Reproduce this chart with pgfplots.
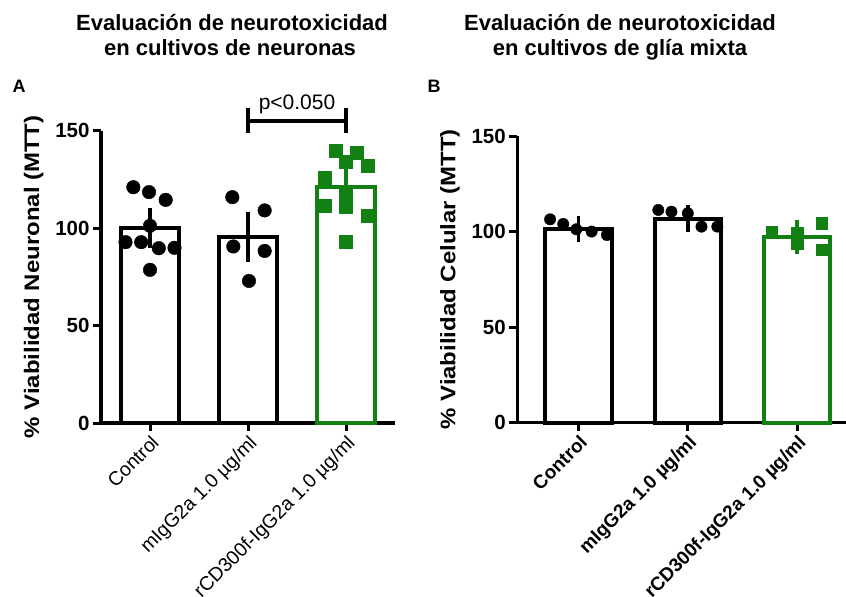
\documentclass[border=0pt]{standalone}
\usepackage{fontspec}
\setmainfont{Liberation Sans}
\usepackage{pgfplots}
\pgfplotsset{compat=1.18}
\definecolor{pgreen}{RGB}{18,128,18}
\begin{document}
\begin{tikzpicture}[x=1pt,y=1pt]
\useasboundingbox (0,0) rectangle (846,-597);
% titles
\node[font=\bfseries\fontsize{22}{23}\selectfont, anchor=base] at (232,-30) {Evaluación de neurotoxicidad};
\node[font=\bfseries\fontsize{22}{23}\selectfont, anchor=base] at (230,-55.5) {en cultivos de neuronas};
\node[font=\bfseries\fontsize{22}{23}\selectfont, anchor=base] at (620,-30) {Evaluación de neurotoxicidad};
\node[font=\bfseries\fontsize{22}{23}\selectfont, anchor=base] at (620,-55.5) {en cultivos de glía mixta};
\node[font=\bfseries\fontsize{18}{18}\selectfont, anchor=base] at (19,-92) {A};
\node[font=\bfseries\fontsize{18}{18}\selectfont, anchor=base] at (434,-92) {B};

\pgfplotsset{
  gpstyle/.style={
    scale only axis,
    axis lines=left,
    axis line style={-, line width=3.5pt},
    ymin=0, ymax=150,
    ytick={0,50,100,150},
    xtick={0,1,2},
    tick align=outside,
    major tick length=8pt,
    tick style={line width=3pt, black},
    clip=false,
    /pgf/number format/assume math mode=true,
    yticklabel style={font=\bfseries\fontsize{20.5}{20.5}\selectfont},
    ylabel style={font=\bfseries\fontsize{21}{21}\selectfont},
    ylabel shift=5pt,
  }
}

% Panel A
\begin{axis}[gpstyle,
  at={(101pt,-423pt)}, anchor=south west,
  width=294pt, height=292.3pt,
  xmin=-0.5, xmax=2.5,
  xticklabels={Control, mIgG2a 1.0 µg/ml, rCD300f-IgG2a 1.0 µg/ml},
  xticklabel style={font=\fontsize{19.5}{19.5}\selectfont, rotate=45, anchor=north east, inner sep=2pt},
  ylabel={\scalebox{1.14}[1]{\% Viabilidad Neuronal (MTT)}},
]
\addplot[ybar, bar shift=0pt, bar width=58pt, fill=white, draw=black, line width=4pt,
  error bars/.cd, y dir=both, y explicit,
  error bar style={line width=3.5pt, black},
  error mark options={line width=3.5pt, mark size=10pt, black}]
  coordinates {(0,100.0) +- (0,5.0) (1,95.4) +- (0,7.7)};
\addplot[ybar, bar shift=0pt, bar width=58pt, fill=white, draw=pgreen, line width=4pt,
  error bars/.cd, y dir=both, y explicit,
  error bar style={line width=3.5pt, pgreen},
  error mark options={line width=3.5pt, mark size=13pt, pgreen}]
  coordinates {(2,121.0) +- (0,4.8)};
\addplot[only marks, mark=*, mark size=6.8pt, black] coordinates {
  (-0.17,121.0) (-0.01,118.5) (0.16,114.5) (0.0,101.2) (-0.25,92.8)
  (-0.09,92.8) (0.09,89.7) (0.25,89.9) (0.0,78.6)
  (0.84,115.9) (1.17,109.1) (0.85,90.6) (1.17,88.3) (1.01,72.9)};
\addplot[only marks, mark=square*, mark size=6.5pt, pgreen] coordinates {
  (1.89,139.7) (2.11,138.5) (2.0,134.2) (2.22,132.0) (1.78,126.0)
  (2.0,118.0) (1.78,111.5) (2.0,111.2) (2.22,106.3) (2.0,93.1)};
% significance bracket
\draw[line width=3.5pt] (axis cs:1,148.8) -- (axis cs:1,161.6);
\draw[line width=3.5pt] (axis cs:2,148.8) -- (axis cs:2,161.6);
\draw[line width=3.5pt] (axis cs:1,155.1) -- (axis cs:2,155.1);
\node[font=\fontsize{21}{21}\selectfont, anchor=base] at (axis cs:1.5,161) {p<0.050};
\end{axis}

% Panel B
\begin{axis}[gpstyle,
  at={(517.3pt,-422.7pt)}, anchor=south west,
  width=334.5pt, height=286.7pt,
  xmin=-0.56, xmax=2.5,
  xticklabels={Control, mIgG2a 1.0 µg/ml, rCD300f-IgG2a 1.0 µg/ml},
  xticklabel style={font=\bfseries\fontsize{19}{19}\selectfont, rotate=45, anchor=north east, inner sep=2pt},
  ylabel={\scalebox{1.14}[1]{\% Viabilidad Celular (MTT)}},
]
\addplot[ybar, bar shift=0pt, bar width=66.5pt, fill=white, draw=black, line width=4pt,
  error bars/.cd, y dir=both, y explicit,
  error bar style={line width=3.5pt, black},
  error mark options={line width=3.5pt, mark size=10pt, black}]
  coordinates {(0,101.5) +- (0,1.5) (1,106.8) +- (0,1.9)};
\addplot[ybar, bar shift=0pt, bar width=66.5pt, fill=white, draw=pgreen, line width=4pt,
  error bars/.cd, y dir=both, y explicit,
  error bar style={line width=3.5pt, pgreen},
  error mark options={line width=3.5pt, mark size=12pt, pgreen}]
  coordinates {(2,97.3) +- (0,2.6)};
\addplot[only marks, mark=*, mark size=5.7pt, black] coordinates {
  (-0.26,106.4) (-0.14,104.0) (-0.02,101.2) (0.12,100.0) (0.26,98.2)
  (0.73,111.3) (0.85,110.4) (1.0,109.6) (1.125,102.6) (1.27,102.6)};
\addplot[only marks, mark=square*, mark size=5.7pt, pgreen] coordinates {
  (1.766,100.0) (2.0,99.1) (2.223,104.3) (2.0,93.9) (2.223,90.4)};
\end{axis}
\end{tikzpicture}
\end{document}
